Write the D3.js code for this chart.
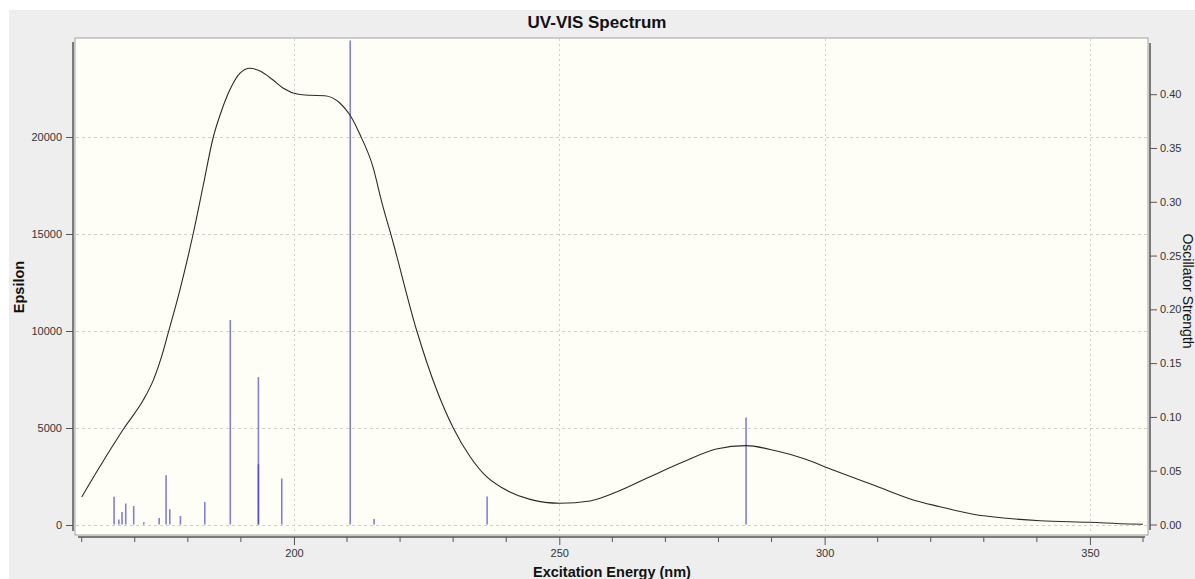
<!DOCTYPE html>
<html><head><meta charset="utf-8">
<script src="https://cdn.jsdelivr.net/npm/d3@7"></script>
<style>html,body{margin:0;padding:0;background:#fff;}svg{display:block;font-family:"Liberation Sans",Arial,sans-serif;}</style>
</head><body>
<svg id="c" width="1195" height="579"></svg>
<script>
// ---- data ----
const curveNm  = [160, 163.4, 168.0, 171.6, 173.5, 175.4, 176.3, 178.5, 181.0, 182.9, 184.8, 186.4, 187.9, 189.8, 191.7, 193.6, 196.0, 198.0, 200.8, 203.0, 205.8, 208.7, 210.55, 212.4, 214.9, 216.5, 218.7, 223.1, 226.9, 230.0, 233.2, 236.3, 239.4, 244.5, 250.1, 255.8, 260.8, 267.1, 273.4, 279.6, 285.2, 291.0, 296.0, 301.6, 309.2, 316.7, 321.7, 328.0, 334.3, 340.6, 350.0, 357.5, 360];
const curveEps = [1440, 3000, 5000, 6440, 7470, 9000, 9900, 12110, 15000, 17500, 20000, 21390, 22420, 23280, 23540, 23400, 22950, 22510, 22200, 22150, 22130, 21740, 21130, 20150, 18450, 16700, 14550, 10050, 6960, 5015, 3520, 2490, 1890, 1320, 1120, 1240, 1700, 2490, 3260, 3920, 4090, 3810, 3430, 2835, 2060, 1290, 945, 550, 345, 220, 140, 50, 40];
const stickNm  = [166.1, 167.0, 167.6, 168.3, 169.8, 171.7, 174.6, 175.9, 176.6, 178.6, 183.2, 188.0, 193.3, 193.3, 197.7, 210.6, 215.1, 236.4, 285.2];
const stickF   = [0.0257, 0.0046, 0.0117, 0.0195, 0.0173, 0.002, 0.006, 0.0458, 0.0142, 0.008, 0.021, 0.19, 0.137, 0.056, 0.0428, 0.45, 0.005, 0.026, 0.0995];
const xMajor = [200, 250, 300, 350];
const xMinor = [160, 170, 180, 190, 210, 220, 230, 240, 260, 270, 280, 290, 310, 320, 330, 340, 360];
const yLeftTicks = [0, 5000, 10000, 15000, 20000];
const yRightTicks = [0, 0.05, 0.10, 0.15, 0.20, 0.25, 0.30, 0.35, 0.40];
const titleText = "UV-VIS Spectrum";
const xLabel = "Excitation Energy (nm)";
const yLeftLabel = "Epsilon";
const yRightLabel = "Oscillator Strength";

// ---- layout ----
const svg = d3.select("#c");
const P = {l: 75, t: 38, r: 1148, b: 535};
const x = d3.scaleLinear().domain([160, 360]).range([81.7, 1143]);
const yL = d3.scaleLinear().domain([0, 25000]).range([525, 40]);
const yR = d3.scaleLinear().domain([0, 0.45]).range([524.5, 40.4]);

svg.append("rect").attr("x",0).attr("y",0).attr("width",1195).attr("height",579).attr("fill","#ffffff");
svg.append("rect").attr("x",9).attr("y",10).attr("width",1186).attr("height",569).attr("fill","#eeeeee");
svg.append("rect").attr("x",P.l).attr("y",P.t).attr("width",P.r-P.l).attr("height",P.b-P.t)
   .attr("fill","#fefef6").attr("stroke","#a0a0a0").attr("stroke-width",1);

const defs = svg.append("defs");
defs.append("clipPath").attr("id","clip").append("rect")
  .attr("x",P.l+0.5).attr("y",P.t+0.5).attr("width",P.r-P.l-1).attr("height",P.b-P.t-1);

// grid
const grid = svg.append("g");
grid.selectAll("line.h").data(yLeftTicks).join("line")
  .attr("x1",P.l+1).attr("x2",P.r-1).attr("y1",d=>Math.round(yL(d))+0.5).attr("y2",d=>Math.round(yL(d))+0.5)
  .attr("stroke","#cfcfcf").attr("stroke-dasharray","3,3");
grid.selectAll("line.v").data(xMajor).join("line")
  .attr("x1",d=>Math.round(x(d))+0.5).attr("x2",d=>Math.round(x(d))+0.5).attr("y1",P.t+1).attr("y2",P.b-1)
  .attr("stroke","#cfcfcf").attr("stroke-dasharray","2,3");

const plot = svg.append("g").attr("clip-path","url(#clip)");
// sticks
plot.selectAll("line.s").data(stickNm.map((n,i)=>({n, f: stickF[i]}))).join("line")
  .attr("x1",d=>x(d.n)).attr("x2",d=>x(d.n)).attr("y1",yR(0)).attr("y2",d=>yR(d.f))
  .attr("stroke","#2f2fb8").attr("stroke-opacity",0.6).attr("stroke-width",1.6);

// curve
const line = d3.line().x(d=>x(d[0])).y(d=>yL(d[1])).curve(d3.curveMonotoneX);
plot.append("path").datum(curveNm.map((n,i)=>[n, curveEps[i]]))
  .attr("d", line).attr("fill","none").attr("stroke","#2a2a2a").attr("stroke-width",1.1);

// axes
const axCol = "#555";
const gL = svg.append("g").attr("transform","translate(73,0)")
  .call(d3.axisLeft(yL).tickValues(yLeftTicks).tickSize(7).tickPadding(4).tickFormat(d3.format("d")));
gL.select(".domain").remove();
gL.append("line").attr("x1",0).attr("x2",0).attr("y1",42).attr("y2",531).attr("stroke",axCol).attr("stroke-width",1.5);
const gR = svg.append("g").attr("transform","translate(1150,0)")
  .call(d3.axisRight(yR).tickValues(yRightTicks).tickSize(7).tickPadding(3).tickFormat(d3.format(".2f")));
gR.select(".domain").remove();
gR.append("line").attr("x1",0).attr("x2",0).attr("y1",43).attr("y2",530).attr("stroke",axCol).attr("stroke-width",1.5);
const gB = svg.append("g").attr("transform","translate(0,537)")
  .call(d3.axisBottom(x).tickValues(xMajor).tickSize(8).tickPadding(4).tickFormat(d3.format("d")));
gB.select(".domain").remove();
gB.append("line").attr("x1",78).attr("x2",1145).attr("y1",0).attr("y2",0).attr("stroke",axCol).attr("stroke-width",1.5);
gB.selectAll("line.minor").data(xMinor).join("line").attr("class","minor")
  .attr("x1",d=>x(d)).attr("x2",d=>x(d)).attr("y1",0).attr("y2",5).attr("stroke",axCol);

[gL,gR,gB].forEach(g=>{
  g.selectAll(".tick line").attr("stroke",axCol);
  g.selectAll(".tick text").attr("fill","#333").style("font-size","11px").style("font-family",'"Liberation Sans",Arial,sans-serif');
});

// texts
svg.append("text").attr("x",597).attr("y",28).attr("text-anchor","middle")
  .style("font-size","17px").style("font-weight","bold").attr("fill","#111").text(titleText);
svg.append("text").attr("x",612).attr("y",577).attr("text-anchor","middle")
  .style("font-size","14.5px").style("font-weight","bold").attr("fill","#111").text(xLabel);
svg.append("text").attr("transform","translate(24,287) rotate(-90)").attr("text-anchor","middle")
  .style("font-size","14.5px").style("font-weight","bold").attr("fill","#111").text(yLeftLabel);
svg.append("text").attr("transform","translate(1182.5,291) rotate(90)").attr("text-anchor","middle")
  .style("font-size","14px").attr("fill","#111").text(yRightLabel);
</script>
</body></html>
